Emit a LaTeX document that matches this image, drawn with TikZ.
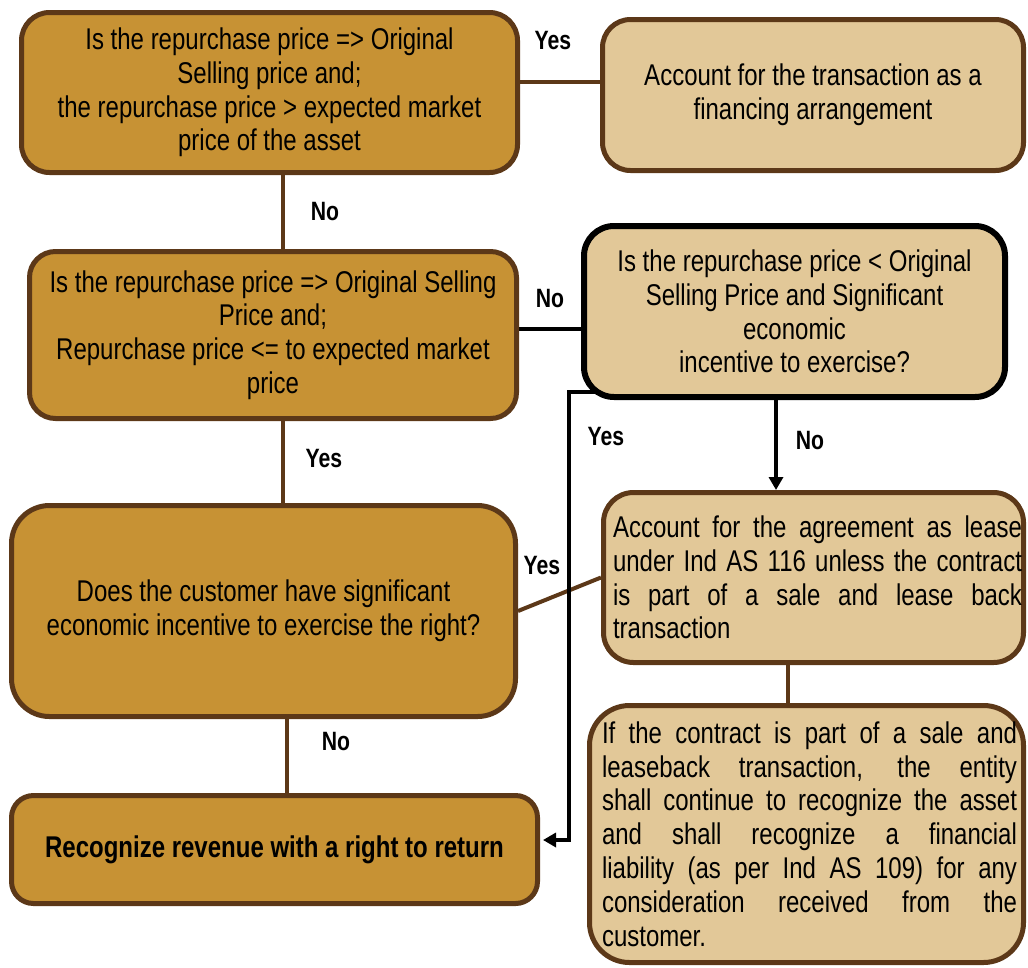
\documentclass[tikz,border=0pt]{standalone}
\usepackage{fontspec}
\setmainfont{Liberation Sans}[FakeStretch=0.80]
\usetikzlibrary{arrows.meta,backgrounds}
\definecolor{gold}{RGB}{199,146,52}
\definecolor{tan}{RGB}{226,200,152}
\definecolor{brn}{RGB}{92,56,24}
\newcommand\jl[2]{\makebox[#1][s]{#2}}
\begin{document}
\begin{tikzpicture}[x=1pt,y=-1pt,
  box/.style={draw=brn, line width=5pt, inner sep=0pt, align=center,
    font=\fontsize{30}{33.8}\selectfont},
  darkbox/.style={box, fill=gold},
  lightbox/.style={box, fill=tan},
  blackbox/.style={lightbox, draw=black, line width=6pt},
  lbl/.style={font=\fontsize{26.5}{28}\selectfont\bfseries, inner sep=0pt},
  bline/.style={draw=brn, line width=4pt},
  kline/.style={draw=black, line width=4pt},
  tip/.style={-{Triangle[length=13pt,width=14pt]}}
]
\useasboundingbox (0,0) rectangle (1028,967);
% boxes
\node[darkbox, rounded corners=28pt, minimum width=496pt, minimum height=160pt] (A) at (269.5,92.5)
  {Is the repurchase price => Original\\Selling price and;\\the repurchase price > expected market\\price of the asset};
\node[lightbox, rounded corners=28pt, minimum width=421pt, minimum height=151pt] (B) at (813,95)
  {Account for the transaction as a\\financing arrangement};
\node[darkbox, rounded corners=26pt, minimum width=487pt, minimum height=167pt] (C) at (273,335)
  {Is the repurchase price => Original Selling\\Price and;\\Repurchase price <= to expected market\\price};
\node[blackbox, rounded corners=30pt, minimum width=421pt, minimum height=171pt] (D) at (794.5,311.5)
  {Is the repurchase price < Original\\Selling Price and Significant\\economic\\incentive to exercise?};
\node[darkbox, rounded corners=38pt, minimum width=504pt, minimum height=211pt] (E) at (263.5,611)
  {Does the customer have significant\\economic incentive to exercise the right?};
\node[lightbox, rounded corners=30pt, minimum width=420pt, minimum height=170pt, align=left] (F) at (813.5,577.5)
  {\hspace*{8pt}\jl{409pt}{Account for the agreement as lease}\\
   \hspace*{8pt}\jl{409pt}{under Ind AS 116 unless the contract}\\
   \hspace*{8pt}\jl{409pt}{is part of a sale and lease back}\\
   \hspace*{8pt}transaction};
\node[lightbox, rounded corners=40pt, minimum width=434pt, minimum height=257pt, align=left] (G) at (806.5,834)
  {\hspace*{6pt}\jl{415pt}{If the contract is part of a sale and}\\
   \hspace*{6pt}\jl{415pt}{leaseback transaction, the entity}\\
   \hspace*{6pt}\jl{415pt}{shall continue to recognize the asset}\\
   \hspace*{6pt}\jl{415pt}{and shall recognize a financial}\\
   \hspace*{6pt}\jl{415pt}{liability (as per Ind AS 109) for any}\\
   \hspace*{6pt}\jl{415pt}{consideration received from the}\\
   \hspace*{6pt}customer.};
\node[darkbox, rounded corners=22pt, minimum width=526pt, minimum height=108pt] (H) at (274.5,849.5)
  {\bfseries Recognize revenue with a right to return};
% helper coordinates
\coordinate (ab) at (0,82);
\coordinate (xac) at (283,0);
\coordinate (cd) at (0,329);
\coordinate (xfg) at (788,0);
\coordinate (xeh) at (287,0);
\coordinate (xdf) at (776,0);
\coordinate (ys0) at (597,392);
\coordinate (ys) at (569,392);
\coordinate (yh) at (0,840);
% connectors
\begin{scope}[on background layer]
\draw[bline] (A.east |- ab) -- (B.west |- ab);
\draw[bline] (A.south -| xac) -- (C.north -| xac);
\draw[kline] (C.east |- cd) -- (D.west |- cd);
\draw[bline] (C.south -| xac) -- (E.north -| xac);
\draw[bline] (E.east) -- (F.west);
\draw[bline] (F.south -| xfg) -- (G.north -| xfg);
\draw[bline] (E.south -| xeh) -- (H.north -| xeh);
\draw[kline,tip,shorten >=3pt] (ys0) -- (ys) -- (ys |- yh) -- (H.east |- yh);
\end{scope}
\draw[kline,tip] (D.south -| xdf) -- (F.north -| xdf);
% labels
\node[lbl] (l1) at (553,41) {Yes};
\node[lbl] (l2) at (325,212) {No};
\node[lbl] (l3) at (550,299) {No};
\node[lbl] (l4) at (324,459) {Yes};
\node[lbl] (l5) at (606,437) {Yes};
\node[lbl] (l6) at (810,441) {No};
\node[lbl] (l7) at (542,566) {Yes};
\node[lbl] (l8) at (336,742) {No};
\end{tikzpicture}
\end{document}
